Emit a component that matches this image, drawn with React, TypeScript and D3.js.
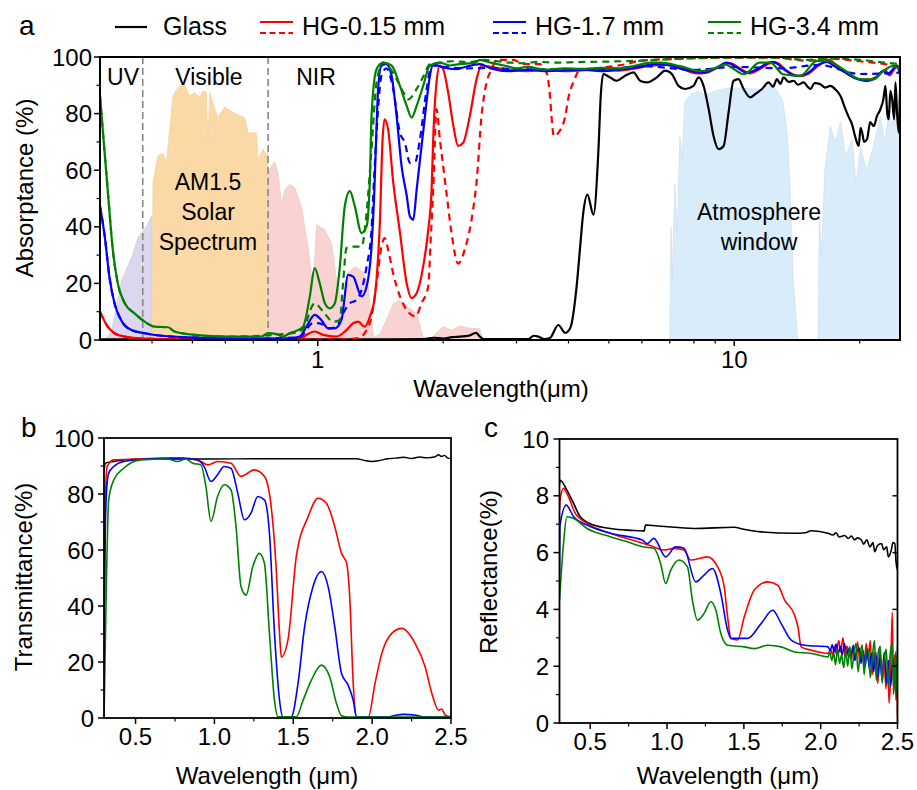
import React from "react";
import * as d3 from "d3";

type P = [number, number];

// ---------- panel a : absorptance (log wavelength) ----------
// AM1.5 solar spectrum, shaded (relative %)
const solarUV: P[] = [[0.3, 0], [0.31, 0.5], [0.32, 3], [0.338, 21], [0.358, 29.5], [0.371, 36.6], [0.388, 40], [0.4, 44], [0.4, 0]];
const solarVis: P[] = [[0.4, 0], [0.402, 55.6], [0.413, 65], [0.425, 66], [0.433, 62.6], [0.449, 86.3], [0.462, 89.2], [0.479, 90.4], [0.492, 86.3], [0.506, 87.5], [0.52, 85.7], [0.53, 88], [0.54, 87.5], [0.545, 69.7], [0.55, 87.5], [0.575, 78.6], [0.597, 82.2], [0.638, 79.8], [0.668, 78.6], [0.68, 73.2], [0.713, 73.2], [0.719, 63.8], [0.739, 67.4], [0.754, 65], [0.759, 67], [0.759, 0]];
const solarNIR: P[] = [[0.759, 0], [0.76, 58], [0.774, 61.5], [0.788, 63], [0.803, 59], [0.819, 48], [0.833, 53], [0.856, 55], [0.88, 54], [0.914, 47], [0.948, 33], [0.974, 17.7], [0.993, 40.8], [1.04, 39], [1.08, 34], [1.11, 21], [1.15, 12], [1.18, 23.6], [1.23, 26], [1.285, 24], [1.32, 20], [1.36, 1], [1.41, 2], [1.52, 13], [1.57, 14], [1.63, 12], [1.73, 9.4], [1.79, 1], [1.86, 0.5], [2.0, 4.7], [2.1, 3.5], [2.19, 5], [2.3, 4.2], [2.45, 4], [2.49, 0]];
const atmWindow1: P[] = [[7.0, 0], [7.05, 40], [7.1, 22], [7.2, 55], [7.3, 38], [7.4, 72], [7.5, 64], [7.6, 84], [7.9, 87], [8.2, 88], [8.5, 86.5], [9.0, 88], [9.6, 89], [10.5, 89], [11.5, 88.6], [12.1, 90], [12.7, 88], [13.1, 84], [13.4, 73], [13.6, 56], [13.85, 21], [14.2, 0]];
const atmWindow2: P[] = [[15.9, 0], [16.0, 45], [16.2, 30], [16.5, 60], [17.0, 75.6], [17.5, 70], [18.0, 77], [18.5, 65], [19.2, 71], [19.6, 55], [20.1, 68], [20.8, 60], [21.6, 68.6], [22.4, 79], [23.0, 70], [23.5, 80], [24.0, 76], [24.4, 86], [24.9, 84], [25, 84]];

const glassA: P[] = [[0.3, 0.2], [1.0, 0.2], [1.8, 0.3], [1.9, 0.8], [2.0, 0.5], [2.1, 1], [2.2, 1.2], [2.3, 1.5], [2.4, 2.5], [2.45, 1.2], [2.5, 0.3], [3.2, 0.3], [3.3, 1.5], [3.385, 1.2], [3.5, 0.3], [3.61, 0.7], [3.78, 5.3], [3.93, 2.5], [4.04, 4.3], [4.19, 20], [4.26, 32], [4.34, 45], [4.44, 51.4], [4.59, 44.3], [4.72, 67.4], [4.78, 86.3], [4.85, 94], [5.03, 92.8], [5.22, 91.6], [5.47, 93.4], [5.73, 94.6], [5.94, 91.6], [6.17, 91], [6.52, 92.8], [6.83, 95.2], [7.08, 94], [7.35, 89.8], [7.62, 88.7], [7.98, 89.8], [8.21, 92.8], [8.44, 89.8], [8.68, 81.6], [8.92, 72], [9.17, 67.4], [9.43, 68.6], [9.69, 80.4], [9.96, 91.6], [10.24, 92.2], [10.53, 88.7], [10.93, 85.7], [11.23, 86.9], [11.66, 88.7], [12.09, 91], [12.4, 89.5], [12.66, 92.2], [12.9, 90.5], [13.14, 92.8], [13.5, 91.2], [13.89, 91.6], [14.2, 90.2], [14.68, 91], [15.0, 89.5], [15.23, 88.7], [15.6, 90.8], [16.1, 90.4], [16.5, 89.2], [17.02, 89.8], [17.5, 88.5], [17.98, 86.3], [18.49, 81.6], [18.8, 79], [19.18, 76.2], [19.5, 72], [19.9, 68.6], [20.1, 75], [20.28, 73.3], [20.5, 70], [20.84, 71], [21.2, 77], [21.63, 75.6], [22.0, 79], [22.44, 81.6], [22.8, 85], [23.07, 89.8], [23.3, 80], [23.49, 78], [23.7, 88], [23.94, 85], [24.2, 78], [24.38, 91], [24.6, 80], [24.83, 73.3], [25.0, 88.7]];

const hg015A: P[] = [[0.3, 10], [0.313, 4.7], [0.325, 2.4], [0.344, 1.2], [0.384, 0.5], [0.52, 0.2], [0.905, 0.3], [0.939, 1.8], [0.983, 3], [1.03, 1.8], [1.109, 1.2], [1.172, 3.5], [1.216, 5.9], [1.25, 6.5], [1.297, 4.7], [1.334, 8.3], [1.371, 15.4], [1.396, 29.5], [1.41, 42], [1.43, 70], [1.447, 78], [1.475, 74.5], [1.517, 56], [1.575, 38], [1.635, 20], [1.68, 14.8], [1.727, 16.5], [1.791, 26], [1.842, 39], [1.876, 53], [1.893, 71], [1.928, 91], [1.964, 97], [2.0, 95.7], [2.056, 87.5], [2.114, 76], [2.173, 68.6], [2.234, 69.7], [2.318, 79.2], [2.405, 92], [2.473, 97], [2.6, 96.5], [2.9, 95.5], [3.2, 95], [3.5, 95.5], [3.9, 95], [4.3, 95.3], [4.8, 95.8], [5.3, 95.2], [5.8, 96], [6.4, 97], [6.9, 97.2], [7.5, 95.8], [8.1, 94.2], [8.6, 94.5], [9.2, 96.5], [9.8, 97.8], [10.3, 96], [10.9, 94.2], [11.6, 96], [12.2, 97.8], [12.6, 98], [13.4, 95], [14.3, 93.2], [15.1, 94.2], [16.0, 97.2], [16.9, 99], [17.7, 96.5], [18.7, 94], [19.8, 92.3], [21.0, 92], [22.0, 93], [23.0, 95.5], [23.6, 93.5], [24.3, 96], [24.7, 97], [25, 93.5]];
const hg015Adash: P[] = [[0.3, 10], [0.313, 4.7], [0.325, 2.4], [0.344, 1.2], [0.384, 0.5], [0.52, 0.2], [1.1, 0.2], [1.25, 0.7], [1.31, 3.5], [1.346, 8.3], [1.384, 20], [1.422, 33], [1.448, 36], [1.475, 32], [1.517, 23.6], [1.575, 15.4], [1.635, 10.6], [1.716, 8.3], [1.775, 13], [1.842, 18.9], [1.867, 35.5], [1.893, 53], [1.928, 81.6], [1.964, 70.9], [2.0, 61.5], [2.037, 52], [2.095, 37.8], [2.173, 27], [2.254, 32], [2.36, 46], [2.405, 55.6], [2.473, 79.2], [2.543, 91], [2.615, 95.7], [2.69, 99], [2.95, 99], [3.11, 97.5], [3.41, 97.5], [3.54, 94.6], [3.61, 86.3], [3.64, 79.2], [3.69, 72], [3.78, 73.2], [3.93, 79.2], [3.99, 85], [4.14, 92.2], [4.26, 95.7], [4.51, 95.7], [4.85, 96.3], [5.51, 97.5], [5.94, 98.7], [7.15, 99.3], [10.3, 99.8], [12.4, 99.8], [14.95, 98.7], [17.0, 99.4], [20, 98.5], [23, 97.5], [25, 96.5]];

const hg17A: P[] = [[0.3, 47.3], [0.308, 36.6], [0.316, 22.4], [0.325, 13], [0.337, 7.1], [0.357, 3.5], [0.384, 2.4], [0.421, 1.5], [0.52, 0.8], [0.725, 0.5], [0.856, 0.6], [0.905, 1.2], [0.939, 4.7], [0.983, 8.9], [1.02, 7.1], [1.059, 4.1], [1.099, 4.1], [1.14, 7.1], [1.183, 23], [1.216, 22.4], [1.274, 15.4], [1.31, 18.9], [1.346, 33], [1.365, 50], [1.378, 67.4], [1.396, 88.7], [1.422, 97], [1.462, 97.5], [1.504, 93.4], [1.546, 79.2], [1.589, 61.5], [1.635, 51], [1.664, 43.7], [1.695, 42.5], [1.727, 53], [1.742, 57.9], [1.809, 79.2], [1.859, 93.4], [1.893, 97.5], [2.0, 96.3], [2.15, 95.7], [2.234, 96.3], [2.45, 97.5], [2.6, 96], [2.9, 95], [3.2, 95.5], [3.5, 95], [3.9, 95.3], [4.3, 95.5], [4.8, 95], [5.3, 95.5], [5.8, 96.2], [6.4, 97.5], [6.8, 97.4], [7.4, 96], [8.0, 94.8], [8.44, 94.5], [9.0, 96], [9.6, 98], [10.1, 96.5], [10.7, 94.5], [11.4, 95.8], [12.0, 97.8], [12.4, 98.3], [13.2, 95.5], [14.1, 93.3], [14.9, 94], [15.8, 97], [16.7, 98.3], [17.5, 96.5], [18.5, 94.5], [19.5, 92.5], [20.8, 91.5], [21.8, 92.5], [22.8, 95], [23.3, 94], [24.0, 95.5], [24.5, 97], [25, 94]];
const hg17Adash: P[] = [[0.3, 47.3], [0.308, 36.6], [0.316, 22.4], [0.325, 13], [0.337, 7.1], [0.357, 3.5], [0.384, 2.4], [0.421, 1.5], [0.52, 0.8], [0.725, 0.5], [0.905, 1], [0.974, 6], [1.011, 5.9], [1.069, 4.1], [1.109, 4.7], [1.15, 9.4], [1.194, 13], [1.235, 14], [1.276, 18], [1.31, 26], [1.346, 39], [1.363, 55], [1.384, 73.2], [1.422, 93.4], [1.462, 96], [1.517, 88.7], [1.575, 73.2], [1.619, 69.7], [1.664, 62.6], [1.716, 63.2], [1.759, 70.9], [1.826, 88.7], [1.876, 97], [2.0, 96.5], [2.3, 96], [2.6, 96.2], [3, 95.6], [4, 95.6], [5, 95.8], [6, 96.8], [8, 95.5], [10, 96.5], [13, 96], [16, 97.2], [20, 94], [25, 94.5]];

const hg34A: P[] = [[0.3, 86.3], [0.305, 73.2], [0.313, 53.2], [0.322, 31.9], [0.331, 20], [0.344, 13], [0.363, 9.4], [0.384, 6.5], [0.406, 4.7], [0.437, 4.5], [0.453, 3], [0.506, 1.8], [0.609, 1.2], [0.732, 1.2], [0.759, 2.4], [0.796, 2.1], [0.825, 1.2], [0.856, 2.4], [0.88, 3], [0.922, 4.7], [0.957, 15.4], [0.983, 25.4], [1.011, 20], [1.04, 13], [1.069, 11.2], [1.099, 13], [1.13, 26], [1.161, 47.3], [1.194, 52.6], [1.227, 47.3], [1.274, 37.8], [1.31, 40.2], [1.334, 56.7], [1.346, 79.2], [1.384, 95.7], [1.435, 98], [1.504, 97], [1.575, 89.8], [1.635, 82.7], [1.68, 78.6], [1.727, 82.7], [1.791, 89.8], [1.859, 97], [1.964, 98], [2.076, 97], [2.19, 97.5], [2.39, 98], [2.45, 99], [2.6, 98], [2.8, 97], [3.0, 96], [3.2, 96.5], [3.5, 95.5], [3.9, 96], [4.3, 95.8], [4.8, 96.2], [5.3, 96], [5.8, 97], [6.3, 98], [6.64, 98], [7.4, 96.8], [8.29, 95], [9.08, 96.3], [9.5, 97.4], [9.8, 96.5], [10.55, 93.9], [11.5, 98], [12.2, 98], [13.1, 93.9], [14.4, 93.3], [15.8, 98.6], [16.7, 98.6], [18.3, 95.6], [20.1, 92.1], [21.6, 92.1], [22.8, 95], [24.0, 96.8], [24.6, 96.3], [25, 95.5]];
const hg34Adash: P[] = [[0.3, 86.3], [0.305, 73.2], [0.313, 53.2], [0.322, 31.9], [0.331, 20], [0.344, 13], [0.363, 9.4], [0.384, 6.5], [0.406, 4.7], [0.437, 4.5], [0.453, 3], [0.506, 1.8], [0.609, 1.2], [0.88, 2.5], [0.922, 4], [0.983, 13], [1.03, 10], [1.089, 6.5], [1.13, 7.1], [1.15, 20], [1.172, 32.5], [1.216, 33], [1.274, 33], [1.31, 45], [1.346, 67.4], [1.384, 91], [1.435, 98], [1.546, 92.2], [1.605, 87.5], [1.65, 85], [1.716, 88], [1.791, 93], [1.859, 97.5], [1.96, 98], [2.1, 98.5], [2.3, 98.2], [2.5, 99], [2.7, 98.5], [2.9, 98], [3.1, 97.8], [3.4, 98.3], [3.7, 98], [4.2, 98.2], [5, 98.4], [6, 98.7], [7.15, 99.3], [10.3, 99.8], [12.4, 99.8], [14.95, 99], [17, 99.5], [20, 99], [23, 98], [25, 97.5]];

const ticksA = [1, 10];
const regionBounds = [0.38, 0.76];

// ---------- panel b : transmittance ----------
const glassB: P[] = [[0.3, 88], [0.31, 91], [0.36, 91.6], [0.5, 92.4], [0.8, 92.5], [1.0, 92.5], [1.3, 92.6], [1.6, 92.6], [1.9, 92.6], [1.95, 92], [2.0, 91.6], [2.05, 92], [2.1, 92.6], [2.15, 92.8], [2.2, 93.1], [2.25, 92.7], [2.3, 93.2], [2.35, 92.9], [2.4, 93.3], [2.42, 94], [2.44, 93.4], [2.46, 93.8], [2.48, 92.8], [2.5, 92.7]];
const hg015B: P[] = [[0.3, 20], [0.305, 60], [0.309, 78], [0.32, 89.8], [0.362, 92.2], [0.5, 92.5], [0.7, 92.8], [0.85, 92.5], [0.914, 91.6], [0.957, 90.4], [1.02, 91.6], [1.105, 91], [1.169, 86.3], [1.253, 88.6], [1.317, 86.3], [1.36, 75.5], [1.391, 54], [1.413, 30.2], [1.424, 21.8], [1.466, 27.8], [1.519, 57.6], [1.594, 71.9], [1.657, 78.5], [1.71, 76.7], [1.763, 68.4], [1.806, 58.8], [1.838, 55.3], [1.859, 42.1], [1.88, 12.3], [1.901, 0.4], [1.976, 0.4], [2.018, 12.3], [2.061, 23], [2.124, 30.2], [2.188, 32], [2.273, 26.6], [2.336, 18.3], [2.379, 8.7], [2.422, 2.8], [2.44, 3.2], [2.464, 1], [2.5, 0.4]];
const hg17B: P[] = [[0.3, 10], [0.305, 51.7], [0.315, 80], [0.33, 87.5], [0.362, 89.8], [0.425, 91.6], [0.6, 92.6], [0.8, 92.8], [0.893, 92.2], [0.935, 89.8], [0.978, 84.5], [1.02, 86.9], [1.062, 89.8], [1.105, 89.2], [1.148, 80.3], [1.19, 70.8], [1.232, 73.2], [1.275, 79.1], [1.317, 77.9], [1.349, 66], [1.381, 30.2], [1.413, 6.3], [1.434, 0.4], [1.487, 0.4], [1.53, 12.3], [1.572, 32.6], [1.625, 46.9], [1.678, 52.3], [1.721, 46.9], [1.763, 32.6], [1.806, 15.9], [1.848, 11.7], [1.88, 6.3], [1.901, 0.4], [2.1, 0.4], [2.15, 1], [2.2, 1.3], [2.28, 1], [2.32, 0.4], [2.5, 0.3]];
const hg34B: P[] = [[0.3, 0], [0.304, 12.3], [0.315, 48], [0.33, 78], [0.362, 85], [0.425, 89.2], [0.532, 92.2], [0.702, 92.5], [0.766, 91.6], [0.818, 92.5], [0.861, 91], [0.914, 90.4], [0.946, 82.7], [0.978, 70.2], [1.02, 79.1], [1.062, 83.3], [1.105, 81.5], [1.137, 68.4], [1.169, 46.9], [1.201, 43.9], [1.243, 54], [1.285, 58.8], [1.317, 55.3], [1.349, 30.2], [1.381, 6.3], [1.403, 0.4], [1.519, 0.4], [1.562, 6.3], [1.615, 13.5], [1.678, 18.9], [1.731, 14.7], [1.774, 5.2], [1.806, 0.8], [1.85, 0.3], [2.5, 0.3]];

// ---------- panel c : reflectance ----------
const glassC: P[] = [[0.3, 8.4], [0.305, 8.55], [0.348, 8.2], [0.392, 7.73], [0.435, 7.26], [0.522, 6.97], [0.631, 6.85], [0.741, 6.79], [0.839, 6.77], [0.85, 6.75], [0.86, 6.97], [0.958, 6.93], [1.176, 6.85], [1.437, 6.89], [1.5, 6.82], [1.612, 6.73], [1.829, 6.68], [1.9, 6.7], [1.938, 6.77], [2.048, 6.68], [2.08, 6.62], [2.1, 6.7], [2.12, 6.55], [2.156, 6.6], [2.18, 6.5], [2.2, 6.58], [2.22, 6.45], [2.24, 6.52], [2.265, 6.44], [2.28, 6.3], [2.3, 6.45], [2.32, 6.2], [2.34, 6.35], [2.352, 6.03], [2.37, 6.25], [2.396, 6.32], [2.41, 6.1], [2.43, 6.2], [2.44, 5.85], [2.46, 6.1], [2.47, 6.35], [2.483, 6.32], [2.49, 5.7], [2.5, 5.38]];
const hg015C: P[] = [[0.3, 7.5], [0.305, 7.9], [0.326, 8.26], [0.348, 8.09], [0.403, 7.38], [0.479, 7.03], [0.631, 6.68], [0.849, 6.32], [0.914, 6.2], [0.98, 6.09], [1.045, 6.15], [1.11, 6.09], [1.154, 5.74], [1.263, 5.85], [1.329, 5.5], [1.372, 4.79], [1.394, 3.74], [1.416, 2.98], [1.459, 2.92], [1.503, 3.74], [1.568, 4.68], [1.656, 4.97], [1.721, 4.85], [1.765, 4.33], [1.83, 3.8], [1.852, 3.38], [1.873, 2.68], [1.939, 2.56], [2.048, 2.45], [2.065, 2.58], [2.078, 2.4], [2.09, 2.7], [2.1, 2.45], [2.118, 2.9], [2.13, 2.5], [2.145, 3.0], [2.158, 2.35], [2.17, 2.7], [2.185, 2.5], [2.2, 2.25], [2.212, 2.75], [2.225, 2.3], [2.24, 2.85], [2.255, 2.15], [2.27, 2.55], [2.283, 1.95], [2.296, 2.8], [2.31, 2.2], [2.322, 2.9], [2.335, 1.7], [2.348, 2.5], [2.36, 1.9], [2.372, 1.4], [2.385, 2.6], [2.4, 1.6], [2.412, 2.4], [2.425, 1.2], [2.437, 2.2], [2.445, 0.7], [2.455, 1.6], [2.466, 3.9], [2.474, 1.0], [2.482, 2.4], [2.49, 0.8], [2.496, 1.8], [2.5, 0.2]];
const hg17C: P[] = [[0.3, 5.27], [0.302, 6.91], [0.344, 7.67], [0.392, 7.26], [0.479, 6.97], [0.631, 6.68], [0.839, 6.44], [0.871, 6.32], [0.914, 6.5], [0.991, 5.85], [1.056, 6.2], [1.11, 6.15], [1.187, 4.97], [1.241, 5.21], [1.296, 5.44], [1.35, 4.56], [1.394, 3.27], [1.416, 2.98], [1.525, 2.98], [1.612, 3.5], [1.688, 3.97], [1.743, 3.5], [1.808, 2.92], [1.895, 2.74], [2.048, 2.68], [2.062, 2.55], [2.075, 2.75], [2.088, 2.5], [2.1, 2.78], [2.115, 2.45], [2.128, 2.7], [2.14, 2.4], [2.155, 2.8], [2.168, 2.35], [2.18, 2.6], [2.195, 2.3], [2.21, 2.7], [2.222, 2.2], [2.236, 2.5], [2.25, 2.65], [2.262, 2.1], [2.276, 2.55], [2.29, 2.0], [2.303, 2.6], [2.317, 1.9], [2.33, 2.45], [2.345, 1.8], [2.358, 2.5], [2.372, 1.6], [2.386, 2.3], [2.4, 1.5], [2.414, 2.5], [2.428, 1.4], [2.442, 2.2], [2.456, 1.3], [2.47, 2.3], [2.484, 1.4], [2.494, 2.2], [2.5, 1.6]];
const hg34C: P[] = [[0.3, 4.33], [0.326, 6.32], [0.348, 7.26], [0.392, 7.2], [0.479, 6.85], [0.631, 6.56], [0.741, 6.38], [0.849, 6.2], [0.914, 6.15], [0.958, 5.62], [0.991, 4.91], [1.024, 5.38], [1.078, 5.74], [1.133, 5.5], [1.165, 4.33], [1.198, 3.62], [1.241, 3.86], [1.285, 4.27], [1.318, 3.97], [1.35, 3.15], [1.394, 2.74], [1.503, 2.68], [1.568, 2.62], [1.656, 2.74], [1.743, 2.68], [1.83, 2.5], [1.939, 2.45], [2.048, 2.33], [2.06, 2.5], [2.072, 2.2], [2.085, 2.45], [2.097, 2.05], [2.11, 2.6], [2.123, 2.1], [2.136, 2.4], [2.15, 1.95], [2.163, 2.55], [2.176, 2.0], [2.19, 2.7], [2.203, 1.9], [2.216, 2.45], [2.23, 2.8], [2.243, 1.8], [2.256, 2.4], [2.27, 2.75], [2.283, 1.7], [2.296, 2.5], [2.31, 2.6], [2.323, 1.6], [2.336, 2.3], [2.35, 2.9], [2.362, 1.5], [2.375, 2.5], [2.388, 2.7], [2.4, 1.4], [2.413, 2.2], [2.426, 2.6], [2.44, 1.3], [2.452, 2.4], [2.465, 2.8], [2.477, 1.1], [2.488, 2.5], [2.495, 1.0], [2.5, 2.7]];

const linTicks = [0.5, 1.0, 1.5, 2.0, 2.5];
const linMinor = [0.75, 1.25, 1.75, 2.25];

const legendItems = [
  { label: "Glass", color: "#000000", dashed: false },
  { label: "HG-0.15 mm", color: "#ff0000", dashed: true },
  { label: "HG-1.7 mm", color: "#0000ff", dashed: true },
  { label: "HG-3.4 mm", color: "#008000", dashed: true },
];
const legendX = [115, 260, 493, 708];

const FONT = "'Liberation Sans', Arial, sans-serif";
const A = { l: 100, r: 900, t: 57, b: 340 };
const B = { l: 104, r: 451, t: 438, b: 718 };
const C = { l: 559.5, r: 897.5, t: 439, b: 723 };

export default function App() {
  const xA = d3.scaleLog().domain([0.3, 25]).range([A.l, A.r]);
  const yA = d3.scaleLinear().domain([0, 100]).range([A.b, A.t]);
  const xB = d3.scaleLinear().domain([0.3, 2.5]).range([B.l, B.r]);
  const yB = d3.scaleLinear().domain([0, 100]).range([B.b, B.t]);
  const xC = d3.scaleLinear().domain([0.3, 2.5]).range([C.l, C.r]);
  const yC = d3.scaleLinear().domain([0, 10]).range([C.b, C.t]);

  const line = (x: any, y: any) =>
    d3.line<P>().x(d => x(d[0])).y(d => y(d[1])).curve(d3.curveMonotoneX);
  const area = (x: any, y: any) =>
    d3.area<P>().x(d => x(d[0])).y0(y(0)).y1(d => y(d[1]));

  const lA = line(xA, yA);
  const aA = area(xA, yA);
  const lB = line(xB, yB);
  const lC = line(xC, yC);

  const dash = "7 5";

  const curvesA = [
    { d: glassA, c: "#000", dash: false },
    { d: hg015Adash, c: "#ff0000", dash: true },
    { d: hg015A, c: "#ff0000", dash: false },
    { d: hg17Adash, c: "#0000ff", dash: true },
    { d: hg17A, c: "#0000ff", dash: false },
    { d: hg34Adash, c: "#008000", dash: true },
    { d: hg34A, c: "#008000", dash: false },
  ];

  const minorA = xA.ticks().filter(t => !ticksA.includes(t) && t > 0.3);

  const yTicks = (y: any, vals: number[], minor: number[], left: number, fmt: (v: number) => string, labelX: number) => (
    <g>
      {vals.map(v => (
        <g key={"m" + v}>
          <line x1={left - 6} x2={left} y1={y(v)} y2={y(v)} stroke="#000" strokeWidth={1.5} />
          <text x={labelX} y={y(v)} dy="0.36em" textAnchor="end" fontSize={24}>{fmt(v)}</text>
        </g>
      ))}
      {minor.map(v => (
        <line key={"n" + v} x1={left - 3.5} x2={left} y1={y(v)} y2={y(v)} stroke="#000" strokeWidth={1.2} />
      ))}
    </g>
  );

  return (
    <svg width={917} height={790} style={{ position: "absolute", left: 0, top: 0, background: "#fff" }} fontFamily={FONT}>
      <defs>
        <clipPath id="clipA"><rect x={A.l} y={A.t} width={A.r - A.l} height={A.b - A.t} /></clipPath>
        <clipPath id="clipB"><rect x={B.l} y={B.t - 2} width={B.r - B.l} height={B.b - B.t + 2} /></clipPath>
        <clipPath id="clipC"><rect x={C.l} y={C.t} width={C.r - C.l} height={C.b - C.t} /></clipPath>
      </defs>

      {/* ---------------- panel a ---------------- */}
      <text x={19} y={35} fontSize={28}>a</text>
      {legendItems.map((it, i) => (
        <g key={it.label}>
          {it.dashed ? (
            <>
              <line x1={legendX[i]} x2={legendX[i] + 33} y1={22} y2={22} stroke={it.color} strokeWidth={2.2} />
              <line x1={legendX[i]} x2={legendX[i] + 33} y1={33} y2={33} stroke={it.color} strokeWidth={2.2} strokeDasharray="6 3.5" />
            </>
          ) : (
            <line x1={legendX[i]} x2={legendX[i] + 32} y1={27} y2={27} stroke={it.color} strokeWidth={2.2} />
          )}
          <text x={legendX[i] + (it.dashed ? 42 : 48)} y={35} fontSize={25}>{it.label}</text>
        </g>
      ))}

      <g clipPath="url(#clipA)">
        <path d={aA(solarUV) || ""} fill="#dcd6ee" stroke="#c9c3de" strokeWidth={0.6} />
        <path d={aA(solarVis) || ""} fill="#fbd9a7" stroke="#efcc9a" strokeWidth={0.6} />
        <path d={aA(solarNIR) || ""} fill="#f9d2d2" stroke="#ecc2c2" strokeWidth={0.6} />
        <path d={aA(atmWindow1) || ""} fill="#d9ecfa" stroke="#c7dbea" strokeWidth={0.6} />
        <path d={aA(atmWindow2) || ""} fill="#d9ecfa" stroke="#c7dbea" strokeWidth={0.6} />
        {regionBounds.map(v => (
          <line key={v} x1={xA(v)} x2={xA(v)} y1={A.t} y2={A.b} stroke="#888" strokeWidth={1.6} strokeDasharray="7 4" />
        ))}
        {curvesA.map((c, i) => (
          <path key={i} d={lA(c.d) || ""} fill="none" stroke={c.c} strokeWidth={2.2} strokeDasharray={c.dash ? dash : undefined} />
        ))}
      </g>
      <text x={123} y={85} fontSize={23} textAnchor="middle">UV</text>
      <text x={209} y={85} fontSize={23} textAnchor="middle">Visible</text>
      <text x={316} y={85} fontSize={23} textAnchor="middle">NIR</text>
      <text x={208} y={190} fontSize={23} textAnchor="middle">AM1.5</text>
      <text x={208} y={220} fontSize={23} textAnchor="middle">Solar</text>
      <text x={208} y={250} fontSize={23} textAnchor="middle">Spectrum</text>
      <text x={759} y={220} fontSize={23} textAnchor="middle">Atmosphere</text>
      <text x={759} y={250} fontSize={23} textAnchor="middle">window</text>

      <rect x={A.l} y={A.t} width={A.r - A.l} height={A.b - A.t} fill="none" stroke="#000" strokeWidth={2} />
      {ticksA.map(t => (
        <g key={t}>
          <line x1={xA(t)} x2={xA(t)} y1={A.b} y2={A.b + 6} stroke="#000" strokeWidth={1.5} />
          <text x={xA(t)} y={368} fontSize={24} textAnchor="middle">{t}</text>
        </g>
      ))}
      {minorA.map(t => (
        <line key={t} x1={xA(t)} x2={xA(t)} y1={A.b} y2={A.b + 3.5} stroke="#000" strokeWidth={1.2} />
      ))}
      {yTicks(yA, [0, 20, 40, 60, 80, 100], [10, 30, 50, 70, 90], A.l, v => String(v), 92)}
      <text x={501} y={397} fontSize={24} textAnchor="middle">Wavelength(μm)</text>
      <text transform="translate(24,188) rotate(-90)" fontSize={24} textAnchor="middle" dy="0.36em">Absorptance (%)</text>

      {/* ---------------- panel b ---------------- */}
      <text x={21} y={437} fontSize={28}>b</text>
      <g clipPath="url(#clipB)">
        <path d={lB(glassB) || ""} fill="none" stroke="#000" strokeWidth={1.4} />
        <path d={lB(hg015B) || ""} fill="none" stroke="#ff0000" strokeWidth={1.6} />
        <path d={lB(hg17B) || ""} fill="none" stroke="#0000ff" strokeWidth={1.6} />
        <path d={lB(hg34B) || ""} fill="none" stroke="#008000" strokeWidth={1.6} />
      </g>
      <rect x={B.l} y={B.t} width={B.r - B.l} height={B.b - B.t} fill="none" stroke="#000" strokeWidth={1.8} />
      {linTicks.map(t => (
        <g key={t}>
          <line x1={xB(t)} x2={xB(t)} y1={B.b} y2={B.b + 6} stroke="#000" strokeWidth={1.5} />
          <text x={xB(t)} y={745} fontSize={24} textAnchor="middle">{d3.format(".1f")(t)}</text>
        </g>
      ))}
      {linMinor.map(t => (
        <line key={t} x1={xB(t)} x2={xB(t)} y1={B.b} y2={B.b + 3.5} stroke="#000" strokeWidth={1.2} />
      ))}
      {yTicks(yB, [0, 20, 40, 60, 80, 100], [10, 30, 50, 70, 90], B.l, v => String(v), 94)}
      <text x={267} y={784} fontSize={24} textAnchor="middle">Wavelength (μm)</text>
      <text transform="translate(23,577) rotate(-90)" fontSize={24} textAnchor="middle" dy="0.36em">Transmittance(%)</text>

      {/* ---------------- panel c ---------------- */}
      <text x={484} y={437} fontSize={28}>c</text>
      <g clipPath="url(#clipC)">
        <path d={lC(glassC) || ""} fill="none" stroke="#000" strokeWidth={1.6} />
        <path d={lC(hg015C) || ""} fill="none" stroke="#ff0000" strokeWidth={1.6} />
        <path d={lC(hg17C) || ""} fill="none" stroke="#0000ff" strokeWidth={1.6} />
        <path d={lC(hg34C) || ""} fill="none" stroke="#008000" strokeWidth={1.6} />
      </g>
      <rect x={C.l} y={C.t} width={C.r - C.l} height={C.b - C.t} fill="none" stroke="#000" strokeWidth={1.8} />
      {linTicks.map(t => (
        <g key={t}>
          <line x1={xC(t)} x2={xC(t)} y1={C.b} y2={C.b + 6} stroke="#000" strokeWidth={1.5} />
          <text x={xC(t)} y={750} fontSize={24} textAnchor="middle">{d3.format(".1f")(t)}</text>
        </g>
      ))}
      {linMinor.map(t => (
        <line key={t} x1={xC(t)} x2={xC(t)} y1={C.b} y2={C.b + 3.5} stroke="#000" strokeWidth={1.2} />
      ))}
      {yTicks(yC, [0, 2, 4, 6, 8, 10], [1, 3, 5, 7, 9], C.l, v => String(v), 549)}
      {[2, 4, 6, 8].map(v => (
        <line key={v} x1={C.r - 5} x2={C.r} y1={yC(v)} y2={yC(v)} stroke="#000" strokeWidth={1.5} />
      ))}
      <text x={728} y={784} fontSize={24} textAnchor="middle">Wavelength (μm)</text>
      <text transform="translate(488,572) rotate(-90)" fontSize={24} textAnchor="middle" dy="0.36em">Reflectance(%)</text>
    </svg>
  );
}
